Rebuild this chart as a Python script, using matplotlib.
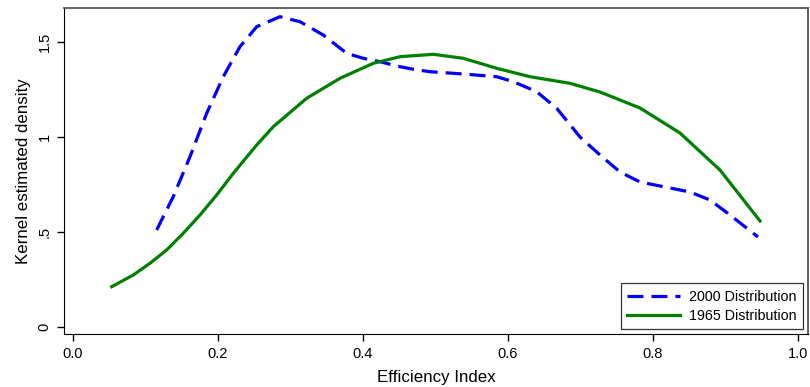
import matplotlib
matplotlib.use("Agg")
import matplotlib.pyplot as plt

plt.rcParams['font.family'] = ['Liberation Sans', 'DejaVu Sans']

# values
x_2000 = [0.1154, 0.1383, 0.1614, 0.1844, 0.2073, 0.2303, 0.2534, 0.2855, 0.3131,
          0.3452, 0.3775, 0.4004, 0.4234, 0.4465, 0.4694, 0.4924, 0.5383, 0.5844,
          0.6073, 0.6396, 0.6672, 0.6993, 0.7269, 0.7545, 0.7821, 0.8097, 0.8510,
          0.8786, 0.9062, 0.9448]
y_2000 = [0.5105, 0.6858, 0.8963, 1.1247, 1.3174, 1.4753, 1.5805, 1.6332, 1.6068,
          1.5368, 1.4405, 1.4142, 1.3963, 1.3737, 1.3563, 1.3437, 1.3316, 1.3174,
          1.2911, 1.2384, 1.1511, 1.0, 0.9053, 0.8158, 0.7632, 0.7421, 0.7105,
          0.6684, 0.5895, 0.4737]

x_1965 = [0.0534, 0.0832, 0.1062, 0.1292, 0.1521, 0.1752, 0.1982, 0.2211, 0.2534,
          0.2763, 0.3223, 0.3683, 0.4142, 0.4510, 0.4970, 0.5383, 0.5844, 0.6303,
          0.6855, 0.7269, 0.7821, 0.8372, 0.8924, 0.9476]
y_1965 = [0.2121, 0.2737, 0.3353, 0.4053, 0.4932, 0.5895, 0.6947, 0.8089, 0.9579,
          1.0542, 1.2037, 1.3089, 1.3879, 1.4226, 1.4353, 1.4142, 1.3616, 1.3174,
          1.2826, 1.2368, 1.1526, 1.0211, 0.8263, 0.5579]

xticks = [0.0, 0.2, 0.4, 0.6, 0.8, 1.0]
xtick_labels = ["0.0", "0.2", "0.4", "0.6", "0.8", "1.0"]
yticks = [0, 0.5, 1, 1.5]
ytick_labels = ["0", ".5", "1", "1.5"]

fig = plt.figure(figsize=(8.1, 3.87), dpi=100)
ax = fig.add_axes([64 / 810, 53 / 387, 744 / 810, 326 / 387])

ax.plot(x_2000, y_2000, color="blue", lw=2.3, dashes=(5, 2.5),
        label="2000 Distribution", solid_joinstyle="round")
ax.plot(x_1965, y_1965, color="green", lw=2.3, label="1965 Distribution",
        solid_joinstyle="round")

ax.set_xlim(-0.0124, 1.0138)
ax.set_ylim(-0.037, 1.679)

ax.set_xticks(xticks)
ax.set_xticklabels(xtick_labels, fontsize=10.5)
ax.set_yticks(yticks)
ax.set_yticklabels(ytick_labels, fontsize=10.5, rotation=90, va="center")
ax.tick_params(direction="out", length=5, width=1, colors="black", pad=4)

ax.set_xlabel("Efficiency Index", fontsize=12.2, labelpad=7)
ax.set_ylabel("Kernel estimated density", fontsize=12.2, labelpad=5)

for side in ["left", "bottom"]:
    ax.spines[side].set_color("black")
for side in ["top", "right"]:
    ax.spines[side].set_color("#555555")
    ax.spines[side].set_linewidth(1.3)

leg = ax.legend(loc="lower right", fontsize=10.3, frameon=True, fancybox=False,
                edgecolor="black", handlelength=3.7, borderaxespad=0.35,
                borderpad=0.45, labelspacing=0.35, handletextpad=0.6)
leg.get_frame().set_linewidth(0.9)

fig.savefig("out.png", dpi=100)
